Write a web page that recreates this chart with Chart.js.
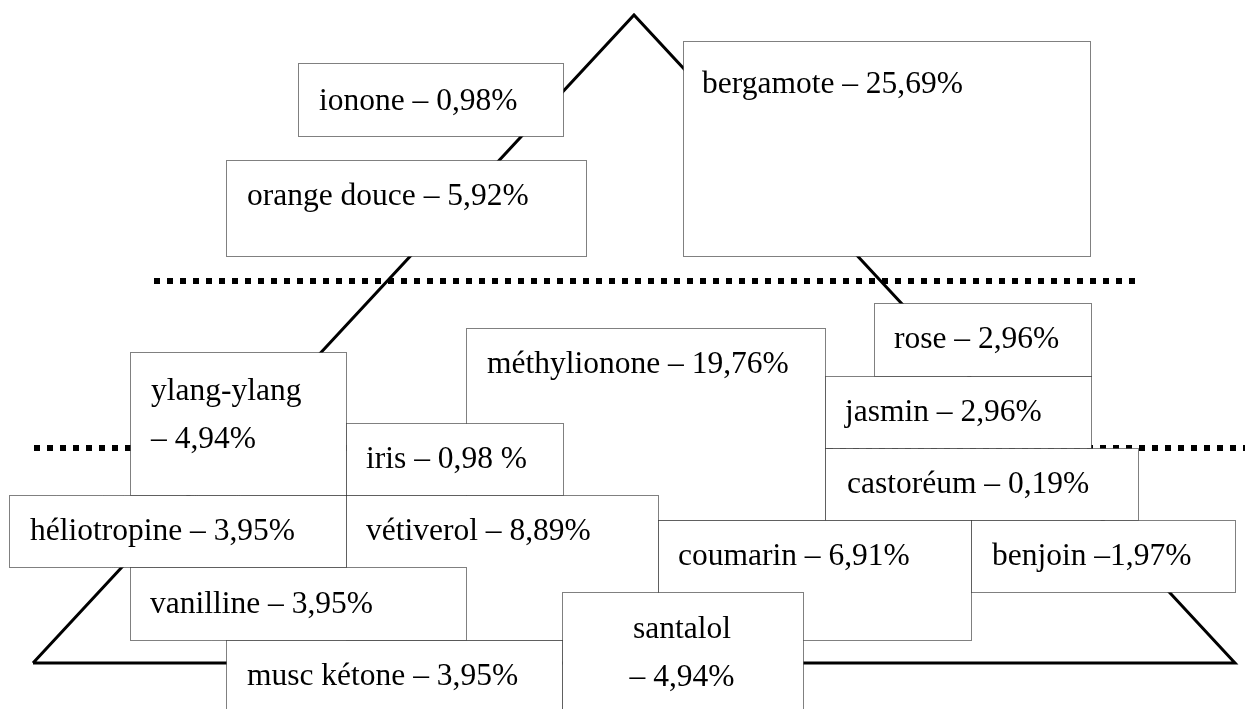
<!DOCTYPE html>
<html lang="fr">
<head>
<meta charset="utf-8">
<script src="https://cdn.jsdelivr.net/npm/chart.js@4.4.0/dist/chart.umd.min.js"></script>
<style>
  html, body { margin: 0; padding: 0; background: #fff; }
  #wrap { width: 1247px; height: 709px; }
</style>
</head>
<body>
<div id="wrap"><canvas id="pyramid" width="1247" height="709"></canvas></div>
<script>
// notes of the perfume pyramid and their share
const notes = ["ionone", "bergamote", "orange douce", "rose", "méthylionone", "jasmin", "castoréum",
  "ylang-ylang", "iris", "héliotropine", "vétiverol", "coumarin", "benjoin", "vanilline", "santalol", "musc kétone"];
const percents = [0.98, 25.69, 5.92, 2.96, 19.76, 2.96, 0.19, 4.94, 0.98, 3.95, 8.89, 6.91, 1.97, 3.95, 4.94, 3.95];
// how each label joins name and value (as typed in the original)
const joins = [" – ", " – ", " – ", " – ", " – ", " – ", " – ", "\n– ", " – ", " – ", " – ", " – ", " –", " – ", "\n– ", " – "];
const units = ["%", "%", "%", "%", "%", "%", "%", "%", " %", "%", "%", "%", "%", "%", "%", "%"];

// layout (canvas coords): box x0, y0, x1, y1, text x, text baseline
const boxes = [
  [298, 63, 563, 136, 319, 110],
  [683, 41, 1090, 256, 702, 93],
  [226, 160, 586, 256, 247, 205],
  [874, 303, 1091, 376, 894, 348],
  [466, 328, 825, 520, 487, 373],
  [825, 376, 1091, 448, 845, 421],
  [825, 448, 1138, 520, 847, 493],
  [130, 352, 346, 495, 151, 400],
  [346, 423, 563, 495, 366, 468],
  [9, 495, 346, 567, 30, 540],
  [346, 495, 658, 640, 366, 540],
  [658, 520, 971, 640, 678, 565],
  [971, 520, 1235, 592, 992, 565],
  [130, 567, 466, 640, 150, 613],
  [562, 592, 803, 712, 682, 638],
  [226, 640, 562, 712, 247, 685]
];
const centered = ["santalol"];
const outline = [[33, 663], [634, 15], [1235, 663], [33, 663]];
const tierLines = [[[154, 281], [1135, 281]], [[34, 448], [1245, 448]]];

const fmt = v => v.toFixed(2).replace(".", ",");
const labels = notes.map((n, i) => n + joins[i] + fmt(percents[i]) + units[i]);

const toPts = arr => arr.map(p => ({ x: p[0], y: p[1] }));

const noteBoxes = {
  id: "noteBoxes",
  afterDatasetsDraw(chart) {
    const ctx = chart.ctx, xs = chart.scales.x, ys = chart.scales.y;
    ctx.save();
    ctx.font = "31.5px 'Liberation Serif', 'Times New Roman', serif";
    ctx.textBaseline = "alphabetic";
    boxes.forEach((b, i) => {
      const x0 = Math.round(xs.getPixelForValue(b[0])) + 0.5;
      const y0 = Math.round(ys.getPixelForValue(b[1])) + 0.5;
      const x1 = Math.round(xs.getPixelForValue(b[2])) + 0.5;
      const y1 = Math.round(ys.getPixelForValue(b[3])) + 0.5;
      ctx.fillStyle = "#fff";
      ctx.fillRect(x0, y0, x1 - x0, y1 - y0);
      ctx.setLineDash([1, 1]);
      ctx.lineWidth = 1;
      ctx.strokeStyle = "#000";
      ctx.strokeRect(x0, y0, x1 - x0, y1 - y0);
      ctx.fillStyle = "#000";
      ctx.textAlign = centered.includes(notes[i]) ? "center" : "left";
      const tx = xs.getPixelForValue(b[4]);
      labels[i].split("\n").forEach((line, k) => {
        ctx.fillText(line, tx, ys.getPixelForValue(b[5] + k * 48));
      });
    });
    ctx.restore();
  }
};

new Chart(document.getElementById("pyramid"), {
  type: "scatter",
  data: {
    datasets: [
      {
        data: toPts(outline),
        showLine: true,
        borderColor: "#000",
        borderWidth: 3,
        borderJoinStyle: "miter",
        pointRadius: 0,
        tension: 0
      },
      ...tierLines.map(l => ({
        data: toPts(l),
        showLine: true,
        borderColor: "#000",
        borderWidth: 6,
        borderDash: [6, 7],
        borderCapStyle: "butt",
        pointRadius: 0
      }))
    ]
  },
  options: {
    responsive: false,
    animation: false,
    events: [],
    layout: { padding: 0 },
    scales: {
      x: { type: "linear", min: 0, max: 1247, display: false },
      y: { type: "linear", min: 0, max: 709, reverse: true, display: false }
    },
    plugins: { legend: { display: false }, tooltip: { enabled: false } }
  },
  plugins: [noteBoxes]
});
</script>
</body>
</html>
